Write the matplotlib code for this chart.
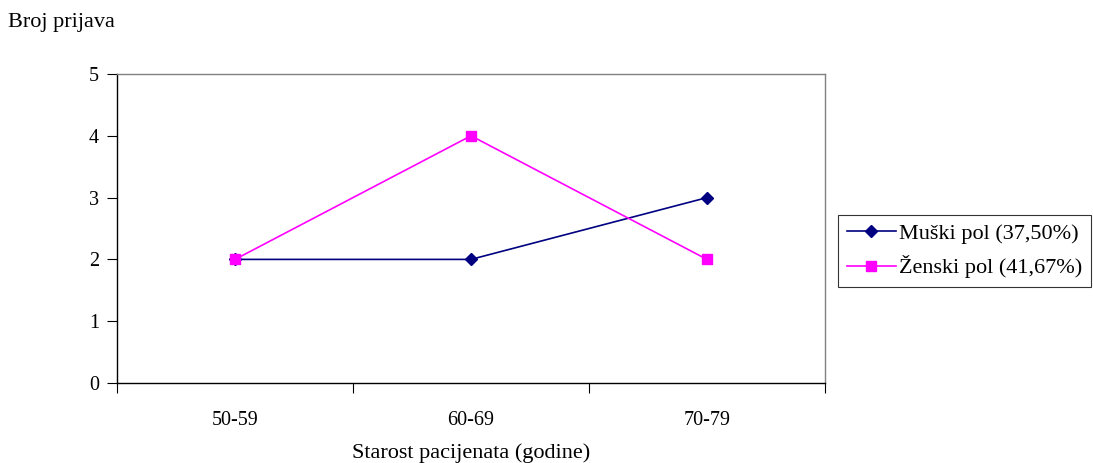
import matplotlib
matplotlib.use("Agg")
import matplotlib.pyplot as plt

categories = ["50-59", "60-69", "70-79"]
muski = [2, 2, 3]
zenski = [2, 4, 2]
label_m = "Muški pol (37,50%)"
label_z = "Ženski pol (41,67%)"

plt.rcParams['font.family'] = ['Liberation Serif', 'DejaVu Serif']
fs_tick = 14.5
fs_text = 16

fig = plt.figure(figsize=(10.93, 4.63), dpi=100)
ax = fig.add_axes([117/1093, 80/463, (825-117)/1093, (383-74)/463])

x = list(range(len(categories)))
lm, = ax.plot(x, muski, color="#000080", marker="D", markersize=6, lw=1.2, label=label_m)
lz, = ax.plot(x, zenski, color="#FF00FF", marker="s", markersize=6.5, lw=1.2, label=label_z)

ax.set_xlim(-0.5, len(categories) - 0.5)
ax.set_ylim(0, 5)
ax.set_yticks(range(0, 6))
ax.set_xticks([i - 0.5 for i in range(len(categories) + 1)])
ax.set_xticklabels([])
ax.set_xticks(x, minor=True)
ax.set_xticklabels(categories, minor=True, fontsize=fs_tick)
ax.tick_params(axis='x', which='minor', length=0, pad=20)
ax.tick_params(axis='x', which='major', length=7, direction='out', color='black')
ax.tick_params(axis='y', length=7, direction='out', labelsize=fs_tick, pad=6)

for s in ["top", "right"]:
    ax.spines[s].set_color("#808080")
    ax.spines[s].set_linewidth(1.0)
for s in ["left", "bottom"]:
    ax.spines[s].set_color("black")
    ax.spines[s].set_linewidth(1.0)

fig.text(8/1093, 1 - 22/463, "Broj prijava", fontsize=fs_text, va="center", ha="left")
fig.text(471/1093, 1 - 453/463, "Starost pacijenata (godine)", fontsize=fs_text, va="center", ha="center")

leg = fig.legend(handles=[lm, lz], loc="center left", bbox_to_anchor=(838/1093, 1 - 251/463),
                 frameon=True, fancybox=False, edgecolor="black", fontsize=fs_text,
                 handlelength=2.2, handletextpad=0.15, borderpad=0.4, labelspacing=0.5,
                 borderaxespad=0)
leg.get_frame().set_linewidth(0.8)

fig.savefig("out.png", dpi=100)
